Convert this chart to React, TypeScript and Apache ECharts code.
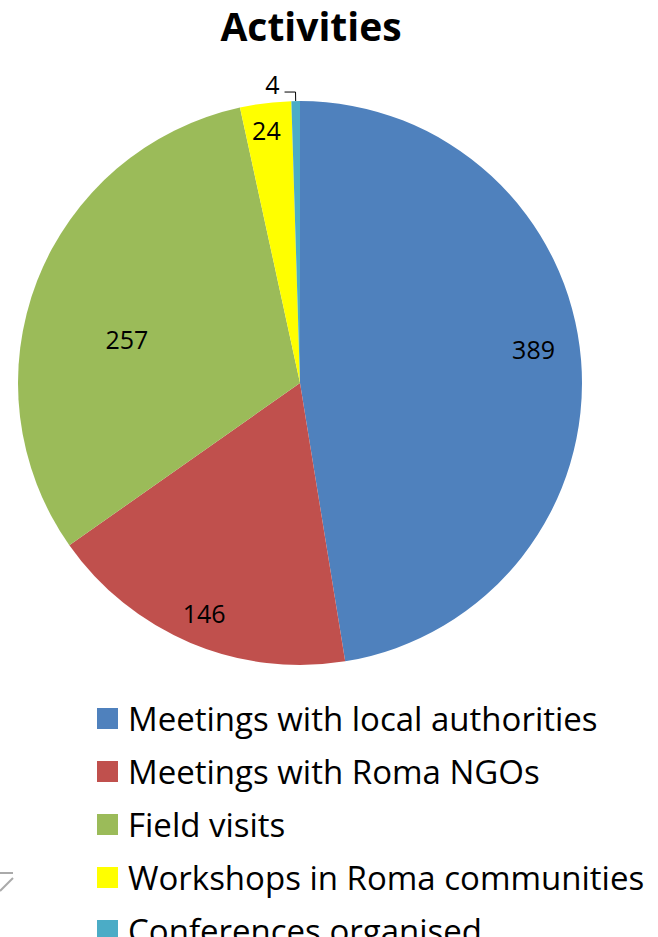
import React, { useEffect, useRef } from "react";
import * as echarts from "echarts";

const categories = [
  "Meetings with local authorities",
  "Meetings with Roma NGOs",
  "Field visits",
  "Workshops in Roma communities",
  "Conferences organised",
];
const values = [389, 146, 257, 24, 4];
const colors = ["#4F81BD", "#C0504D", "#9BBB59", "#FFFF00", "#4BACC6"];
const labelOffsets: number[][] = [
  [90, -22],
  [-40, 97],
  [-39, 8],
  [-16, -110],
  [0, 0],
];

export default function App() {
  const ref = useRef<HTMLDivElement>(null);
  useEffect(() => {
    document.body.style.margin = "0";
    const chart = echarts.init(ref.current!, null, { renderer: "svg" });
    const data = categories.map((name, i) => {
      const item: any = {
        name,
        value: values[i],
        itemStyle: { color: colors[i] },
      };
      if (i === 4) {
        item.label = {
          position: "outside",
          formatter: "{c}\n ",
          lineHeight: 17,
        };
        item.labelLine = { show: true, length: 9, length2: 11 };
      } else {
        item.label = { position: "inside", offset: labelOffsets[i] };
        item.labelLine = { show: false };
      }
      return item;
    });
    chart.setOption({
      animation: false,
      title: {
        text: "Activities",
        left: 306,
        top: 1,
        textAlign: "center",
        textStyle: {
          fontFamily: "Open Sans",
          fontWeight: "bold",
          fontSize: 39,
          color: "#000",
        },
      },
      legend: {
        orient: "vertical",
        left: 97,
        top: 702,
        width: 600,
        height: 400,
        padding: 0,
        itemWidth: 21,
        itemHeight: 21,
        itemGap: 20,
        icon: "rect",
        data: categories,
        textStyle: {
          fontFamily: "Open Sans",
          fontSize: 33,
          lineHeight: 30,
          color: "#000",
          padding: [0, 0, 0, 5],
        },
      },
      series: [
        {
          type: "pie",
          center: [300, 383],
          radius: 282,
          startAngle: 90,
          clockwise: true,
          avoidLabelOverlap: false,
          label: {
            show: true,
            formatter: "{c}",
            fontFamily: "Open Sans",
            fontSize: 25,
            color: "#000",
          },
          labelLine: {
            lineStyle: { color: "#000", width: 1 },
          },
          itemStyle: { borderWidth: 0 },
          emphasis: { disabled: true },
          data,
        },
      ],
      graphic: [
        {
          type: "polyline",
          shape: { points: [[0, 873], [13, 873]] },
          style: { stroke: "#aaa", lineWidth: 2 },
        },
        {
          type: "polyline",
          shape: { points: [[13, 878], [0, 891]] },
          style: { stroke: "#aaa", lineWidth: 2 },
        },
      ],
    });
    return () => chart.dispose();
  }, []);
  return <div ref={ref} style={{ width: 658, height: 937 }} />;
}
